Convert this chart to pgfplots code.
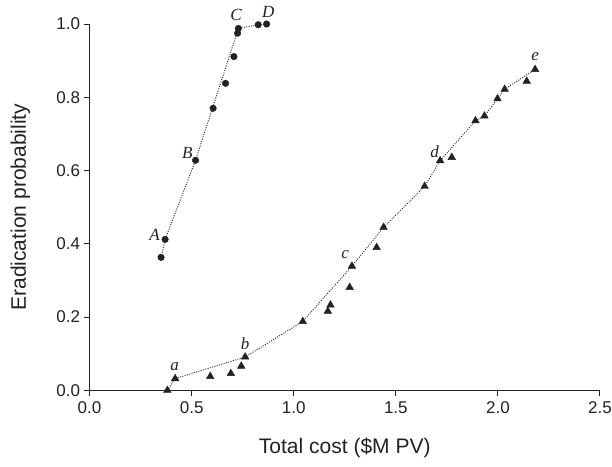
\documentclass[border=0pt]{standalone}
\usepackage{pgfplots}
\pgfplotsset{compat=1.18}
\usepackage{fontspec}
\setmainfont{Liberation Sans}
\newfontfamily\serifit{Liberation Serif}
\definecolor{txt}{HTML}{222222}
\begin{document}
\begin{tikzpicture}
\begin{axis}[
  scale only axis,
  width=510pt, height=366pt,
  xmin=0, xmax=2.5, ymin=0, ymax=1.0,
  axis x line*=bottom, axis y line*=left,
  axis line style={txt, line width=1pt},
  xtick={0,0.5,...,2.5}, ytick={0,0.2,...,1.0},
  tick align=outside, major tick length=6pt,
  tick style={txt, line width=1pt},
  minor tick num=0,
  /pgf/number format/fixed, /pgf/number format/fixed zerofill,
  /pgf/number format/precision=1,
  /pgf/number format/assume math mode=true,
  ticklabel style={font=\fontsize{17}{17}\selectfont, text=txt},
  xticklabel style={yshift=-2pt},
  label style={font=\fontsize{21}{21}\selectfont, text=txt},
  xlabel={Total cost (\$M PV)},
  ylabel={Eradication probability},
  xlabel style={at={(axis description cs:0.5,0)}, anchor=center, yshift=-58pt},
  ylabel style={at={([xshift=-69pt]axis description cs:0,0.5)}, anchor=center},
  clip=false,
]
\coordinate (SW) at (rel axis cs:0,0);
\coordinate (NE) at (rel axis cs:1,1);
% frontier lines
\addplot[dash pattern=on 1pt off 1.4pt, line width=0.9pt, txt] coordinates {
 (0.350,0.363) (0.370,0.412) (0.519,0.628) (0.729,0.988) (0.826,0.998) (0.867,1.0)};
\addplot[dash pattern=on 1pt off 1.4pt, line width=0.9pt, txt] coordinates {
 (0.381,0.0) (0.419,0.032) (0.762,0.091) (1.044,0.188) (1.285,0.339) (1.440,0.445)
 (1.641,0.557) (1.717,0.627) (1.890,0.736) (1.934,0.749) (1.998,0.796) (2.033,0.822) (2.182,0.876)};
% circles
\addplot[only marks, mark=*, mark size=3.3pt, txt] coordinates {
 (0.350,0.363) (0.370,0.412) (0.519,0.628) (0.605,0.770) (0.666,0.838) (0.707,0.911)
 (0.725,0.975) (0.729,0.988) (0.826,0.998) (0.867,1.0)};
% triangles
\addplot[only marks, mark=triangle*, mark size=4.4pt, txt] coordinates {
 (0.381,0.0) (0.419,0.032) (0.591,0.038) (0.692,0.046) (0.743,0.066) (0.762,0.091)
 (1.044,0.188) (1.167,0.216) (1.180,0.233) (1.274,0.281) (1.285,0.339) (1.406,0.390)
 (1.440,0.445) (1.641,0.557) (1.717,0.627) (1.774,0.636) (1.890,0.736) (1.934,0.749)
 (1.998,0.796) (2.033,0.822) (2.141,0.844) (2.182,0.876)};
% labels
\begin{scope}[every node/.style={font=\serifit\itshape\fontsize{17}{17}\selectfont, text=txt, inner sep=0pt, anchor=center}]
\node at (axis cs:0.318,0.423) {A};
\node at (axis cs:0.479,0.647) {B};
\node at (axis cs:0.718,1.025) {C};
\node at (axis cs:0.875,1.034) {D};
\node at (axis cs:0.416,0.064) {a};
\node at (axis cs:0.762,0.128) {b};
\node at (axis cs:1.252,0.371) {c};
\node at (axis cs:1.690,0.651) {d};
\node at (axis cs:2.182,0.911) {e};
\end{scope}
\end{axis}
\pgfresetboundingbox
\useasboundingbox ([xshift=-89.5pt,yshift=-76pt]SW) rectangle ([xshift=12pt,yshift=24pt]NE);
\end{tikzpicture}
\end{document}
